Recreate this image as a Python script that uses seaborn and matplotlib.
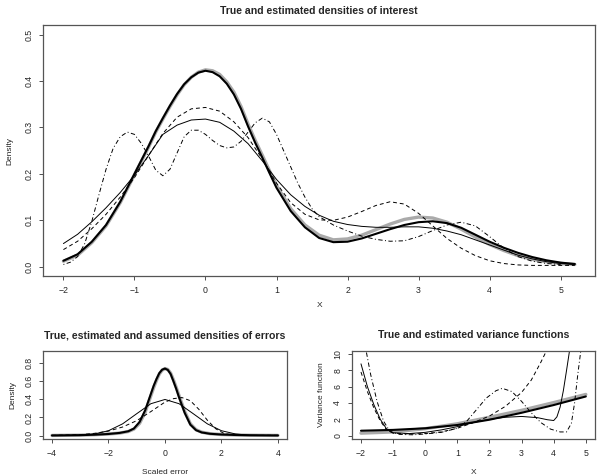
import numpy as np
import pandas as pd
import seaborn as sns
import matplotlib.pyplot as plt

# --- top panel: densities of interest ---
top_x_thick = [-2.0, -1.8, -1.6, -1.4, -1.2, -1.0, -0.9, -0.8, -0.7, -0.6, -0.5, -0.4, -0.3, -0.2, -0.1, 0.0,
               0.1, 0.2, 0.3, 0.4, 0.5, 0.6, 0.7, 0.8, 0.9, 1.0, 1.2, 1.4, 1.6, 1.8, 2.0, 2.2, 2.4, 2.6, 2.8,
               3.0, 3.2, 3.4, 3.6, 3.8, 4.0, 4.2, 4.4, 4.6, 4.8, 5.0, 5.2]
top_true = [0.012, 0.025, 0.052, 0.088, 0.138, 0.198, 0.228, 0.258, 0.290, 0.318, 0.345, 0.370, 0.392, 0.408,
            0.419, 0.424, 0.422, 0.414, 0.398, 0.376, 0.345, 0.307, 0.272, 0.240, 0.207, 0.175, 0.125, 0.090,
            0.068, 0.058, 0.060, 0.068, 0.080, 0.092, 0.102, 0.107, 0.105, 0.096, 0.081, 0.064, 0.048, 0.035,
            0.024, 0.016, 0.011, 0.007, 0.005]
top_est = [0.013, 0.027, 0.054, 0.090, 0.140, 0.200, 0.230, 0.260, 0.292, 0.320, 0.347, 0.372, 0.393, 0.408,
           0.418, 0.422, 0.419, 0.410, 0.394, 0.371, 0.340, 0.302, 0.267, 0.235, 0.202, 0.170, 0.120, 0.085,
           0.062, 0.053, 0.054, 0.061, 0.071, 0.081, 0.090, 0.096, 0.098, 0.094, 0.084, 0.069, 0.054, 0.041,
           0.030, 0.021, 0.014, 0.009, 0.006]
top_x = [-2.0, -1.8, -1.6, -1.4, -1.2, -1.0, -0.8, -0.6, -0.4, -0.2, 0.0, 0.2, 0.4, 0.6, 0.8, 1.0, 1.2, 1.4,
         1.6, 1.8, 2.0, 2.2, 2.4, 2.6, 2.8, 3.0, 3.2, 3.4, 3.6, 3.8, 4.0, 4.2, 4.4, 4.6, 4.8, 5.0, 5.2]
top_thin = [0.050, 0.070, 0.097, 0.127, 0.160, 0.197, 0.240, 0.285, 0.305, 0.316, 0.318, 0.311, 0.292, 0.265,
            0.228, 0.188, 0.155, 0.130, 0.111, 0.098, 0.091, 0.087, 0.085, 0.085, 0.086, 0.086, 0.083, 0.077,
            0.069, 0.058, 0.047, 0.036, 0.025, 0.017, 0.011, 0.007, 0.005]
top_dash = [0.037, 0.055, 0.082, 0.113, 0.150, 0.192, 0.240, 0.287, 0.322, 0.340, 0.343, 0.335, 0.312, 0.278,
            0.232, 0.180, 0.138, 0.113, 0.101, 0.100, 0.107, 0.119, 0.132, 0.140, 0.135, 0.115, 0.088, 0.061,
            0.040, 0.024, 0.013, 0.007, 0.004, 0.003, 0.003, 0.003, 0.003]
top_x_dd = [-2.0, -1.9, -1.8, -1.7, -1.6, -1.5, -1.4, -1.3, -1.2, -1.1, -1.0, -0.9, -0.8, -0.7, -0.6, -0.5, -0.4,
            -0.3, -0.2, -0.1, 0.0, 0.1, 0.2, 0.3, 0.4, 0.5, 0.6, 0.7, 0.8, 0.9, 1.0, 1.1, 1.2, 1.3, 1.4, 1.5, 1.6,
            1.8, 2.0, 2.2, 2.4, 2.6, 2.8, 3.0, 3.2, 3.4, 3.6, 3.8, 4.0, 4.2, 4.4, 4.6, 4.8, 5.0]
top_dd = [0.005, 0.010, 0.022, 0.050, 0.098, 0.155, 0.210, 0.255, 0.280, 0.290, 0.285, 0.265, 0.238, 0.208,
          0.196, 0.210, 0.245, 0.280, 0.294, 0.294, 0.285, 0.272, 0.261, 0.256, 0.258, 0.270, 0.290, 0.310,
          0.320, 0.312, 0.285, 0.250, 0.215, 0.180, 0.150, 0.125, 0.108, 0.090, 0.077, 0.066, 0.059, 0.055,
          0.056, 0.065, 0.078, 0.090, 0.096, 0.088, 0.065, 0.040, 0.022, 0.012, 0.007, 0.005]

# --- bottom left: densities of errors ---
err_x = [-4.0, -3.0, -2.5, -2.0, -1.6, -1.3, -1.1, -0.9, -0.7, -0.5, -0.4, -0.3, -0.2, -0.1, 0.0, 0.1, 0.2,
         0.3, 0.4, 0.5, 0.7, 0.9, 1.1, 1.3, 1.6, 2.0, 2.5, 3.0, 4.0]
err_true = [0.002, 0.005, 0.010, 0.018, 0.028, 0.045, 0.072, 0.135, 0.260, 0.440, 0.530, 0.610, 0.680, 0.722,
            0.740, 0.730, 0.690, 0.615, 0.530, 0.440, 0.265, 0.130, 0.065, 0.038, 0.021, 0.012, 0.007, 0.004,
            0.002]
err_est = [0.002, 0.005, 0.010, 0.018, 0.030, 0.048, 0.078, 0.150, 0.280, 0.460, 0.550, 0.625, 0.690, 0.728,
           0.740, 0.725, 0.680, 0.600, 0.515, 0.420, 0.250, 0.120, 0.060, 0.035, 0.020, 0.012, 0.007, 0.004,
           0.002]
norm_x = [-4.0, -3.5, -3.0, -2.5, -2.0, -1.5, -1.0, -0.5, 0.0, 0.5, 1.0, 1.5, 2.0, 2.5, 3.0, 3.5, 4.0]
err_assumed = [0.000, 0.001, 0.004, 0.018, 0.054, 0.130, 0.242, 0.352, 0.399, 0.352, 0.242, 0.130, 0.054,
               0.018, 0.004, 0.001, 0.000]
dash_x = [-4.0, -3.0, -2.5, -2.0, -1.5, -1.0, -0.5, 0.0, 0.3, 0.6, 0.9, 1.2, 1.5, 1.8, 2.1, 2.5, 3.0, 3.5, 4.0]
err_dash = [0.002, 0.010, 0.025, 0.050, 0.095, 0.165, 0.265, 0.370, 0.408, 0.420, 0.385, 0.290, 0.170, 0.075,
            0.022, 0.002, 0.001, 0.003, 0.003]

# --- bottom right: variance functions ---
var_x = [-2.0, -1.0, 0.0, 1.0, 2.0, 3.0, 4.0, 5.0]
var_true = [0.30, 0.45, 0.85, 1.45, 2.25, 3.10, 4.05, 5.05]
var_est = [0.60, 0.70, 0.90, 1.30, 1.95, 2.80, 3.75, 4.80]
vthin_x = [-2.0, -1.8, -1.6, -1.4, -1.2, -1.0, -0.5, 0.0, 0.5, 1.0, 1.5, 2.0, 2.5, 3.0, 3.5, 3.8, 4.0, 4.1,
           4.2, 4.3, 4.4, 4.5]
var_thin = [8.8, 6.0, 3.8, 2.0, 0.8, 0.35, 0.25, 0.40, 0.70, 1.10, 1.60, 2.00, 2.25, 2.35, 2.20, 1.95, 1.85,
            2.30, 3.50, 5.50, 8.00, 10.6]
vdash_x = [-2.0, -1.8, -1.6, -1.4, -1.2, -1.0, -0.5, 0.0, 0.5, 1.0, 1.5, 2.0, 2.5, 3.0, 3.3, 3.6, 3.8]
var_dash = [7.8, 5.4, 3.4, 1.8, 0.7, 0.3, 0.2, 0.25, 0.45, 0.9, 1.6, 2.4, 3.6, 5.3, 6.8, 9.0, 10.6]
vdd_x = [-1.85, -1.7, -1.5, -1.3, -1.1, -0.8, -0.4, 0.0, 0.5, 1.0, 1.3, 1.6, 1.9, 2.2, 2.4, 2.7, 3.0, 3.3, 3.6,
         3.9, 4.2, 4.4, 4.55, 4.65, 4.75, 4.85]
var_dd = [10.6, 7.5, 4.2, 1.8, 0.5, 0.15, 0.1, 0.2, 0.4, 0.9, 1.8, 3.2, 4.6, 5.5, 5.8, 5.4, 4.2, 2.8, 1.6, 0.8,
          0.45, 0.45, 1.5, 4.0, 7.5, 10.6]

sns.set_style("ticks")
plt.rcParams['font.family'] = ['Liberation Sans', 'DejaVu Sans']

GRAY = '#aaaaaa'
DASH = (0, (4, 3))
DOTDASH = (0, (1, 2.5, 4.5, 2.5))

fig = plt.figure(figsize=(6.01, 4.76), dpi=100)
ax1 = fig.add_axes([0.0715, 0.420, 0.919, 0.527])
ax2 = fig.add_axes([0.0715, 0.078, 0.406, 0.185])
ax3 = fig.add_axes([0.5857, 0.078, 0.404, 0.185])


def curve(ax, x, y, color='black', lw=0.7, ls='-'):
    sns.lineplot(x=x, y=y, ax=ax, color=color, lw=lw, linestyle=ls,
                 solid_joinstyle='round', solid_capstyle='round')


curve(ax1, top_x_thick, top_true, GRAY, 2.4)
curve(ax1, top_x_thick, top_est, 'black', 1.5)
curve(ax1, top_x, top_thin)
curve(ax1, top_x, top_dash, ls=DASH)
curve(ax1, top_x_dd, top_dd, ls=DOTDASH)

curve(ax2, err_x, err_true, GRAY, 2.4)
curve(ax2, err_x, err_est, 'black', 1.5)
curve(ax2, norm_x, err_assumed)
curve(ax2, dash_x, err_dash, ls=DASH)

curve(ax3, var_x, var_true, GRAY, 2.4)
curve(ax3, var_x, var_est, 'black', 1.5)
curve(ax3, vthin_x, var_thin)
curve(ax3, vdash_x, var_dash, ls=DASH)
curve(ax3, vdd_x, var_dd, ls=DOTDASH)

ax1.set_xlim(-2.288, 5.488)
ax1.set_ylim(-0.02, 0.52)
ax1.set_xticks(range(-2, 6))
ax1.set_yticks([0.0, 0.1, 0.2, 0.3, 0.4, 0.5])
ax1.set_yticklabels(['0.0', '0.1', '0.2', '0.3', '0.4', '0.5'])
ax1.set_title('True and estimated densities of interest', fontsize=7.6, fontweight='bold', pad=8)
ax1.set_xlabel('X', fontsize=6, labelpad=5)
ax1.set_ylabel('Density', fontsize=6, labelpad=8)

ax2.set_xlim(-4.32, 4.32)
ax2.set_ylim(-0.036, 0.936)
ax2.set_xticks([-4, -2, 0, 2, 4])
ax2.set_yticks([0.0, 0.2, 0.4, 0.6, 0.8])
ax2.set_yticklabels(['0.0', '0.2', '0.4', '0.6', '0.8'])
ax2.set_title('True, estimated and assumed densities of errors', fontsize=7.6, fontweight='bold', pad=9)
ax2.set_xlabel('Scaled error', fontsize=6, labelpad=8)
ax2.set_ylabel('Density', fontsize=6, labelpad=6)

ax3.set_xlim(-2.28, 5.28)
ax3.set_ylim(-0.4, 10.4)
ax3.set_xticks(range(-2, 6))
ax3.set_yticks([0, 2, 4, 6, 8, 10])
ax3.set_title('True and estimated variance functions', fontsize=7.6, fontweight='bold', pad=9)
ax3.set_xlabel('X', fontsize=6, labelpad=8)
ax3.set_ylabel('Variance function', fontsize=6, labelpad=6)

for ax in (ax1, ax2, ax3):
    ax.tick_params(labelsize=6.3, length=3, width=0.6, color='#333333', pad=4)
    for lab in ax.get_yticklabels():
        lab.set_rotation(90)
        lab.set_verticalalignment('center')
    for sp in ax.spines.values():
        sp.set_visible(True)
        sp.set_color('#555555')
        sp.set_linewidth(0.9)

fig.savefig('out.png', dpi=100)
